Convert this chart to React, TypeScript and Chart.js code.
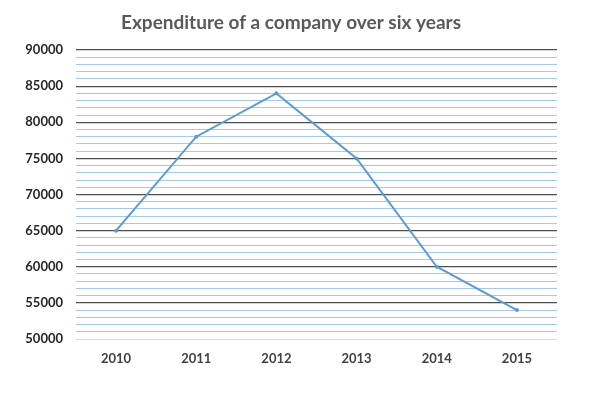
import React, { useEffect, useRef } from "react";
import { Chart, registerables } from "chart.js";

Chart.register(...registerables);

const categories = ["2010", "2011", "2012", "2013", "2014", "2015"];
const expenditure = [65000, 78000, 84000, 75000, 60000, 54000];
const yMin = 50000;
const yMax = 90000;
const minorStep = 1000;
const majorStep = 5000;
const titleText = "Expenditure of a company over six years";

const titlePlugin = {
  id: "customTitle",
  afterDraw(chart: any) {
    const ctx = chart.ctx;
    ctx.save();
    ctx.font = "bold 19px Lato";
    ctx.fillStyle = "#595959";
    ctx.textAlign = "center";
    ctx.textBaseline = "middle";
    ctx.fillText(titleText, 291, 23);
    ctx.restore();
  },
};

export default function App() {
  const ref = useRef<HTMLCanvasElement>(null);
  useEffect(() => {
    document.body.style.margin = "0";
    const chart = new Chart(ref.current!, {
      type: "line",
      data: {
        labels: categories,
        datasets: [
          {
            data: expenditure,
            borderColor: "#5b9bd5",
            backgroundColor: "#5b9bd5",
            borderWidth: 2,
            pointRadius: 2,
            pointBorderWidth: 0,
            tension: 0,
          },
        ],
      },
      options: {
        animation: false,
        responsive: false,
        layout: { padding: { left: 0, right: 49, top: 50, bottom: 0 } },
        plugins: { legend: { display: false }, tooltip: { enabled: false }, title: { display: false } },
        scales: {
          x: {
            offset: true,
            grid: { display: false, drawTicks: false },
            border: { display: false },
            ticks: {
              padding: 12,
              color: "#404040",
              font: { family: "Lato", weight: "bold", size: 13 },
            },
            afterFit(scale: any) {
              scale.height = 57;
            },
          },
          y: {
            min: yMin,
            max: yMax,
            grid: {
              drawTicks: false,
              lineWidth: (c: any) => (c.tick?.value % majorStep === 0 && c.tick?.value !== yMin ? 1.2 : 1),
              color: (c: any) => {
                const v = c.tick?.value;
                if (v === yMin) return "#d9d9d9";
                if (v % majorStep === 0) return "#505050";
                return "#a9c9ec";
              },
            },
            border: { display: false },
            ticks: {
              stepSize: minorStep,
              autoSkip: false,
              padding: 13,
              color: "#262626",
              font: { family: "Lato", weight: "bold", size: 13 },
              callback: (v: any) => (Number(v) % majorStep === 0 ? String(v) : ""),
            },
            afterFit(scale: any) {
              scale.width = 76;
            },
          },
        },
      },
      plugins: [titlePlugin],
    });
    return () => chart.destroy();
  }, []);
  return (
    <div style={{ width: 606, height: 396 }}>
      <canvas ref={ref} width={606} height={396} />
    </div>
  );
}
